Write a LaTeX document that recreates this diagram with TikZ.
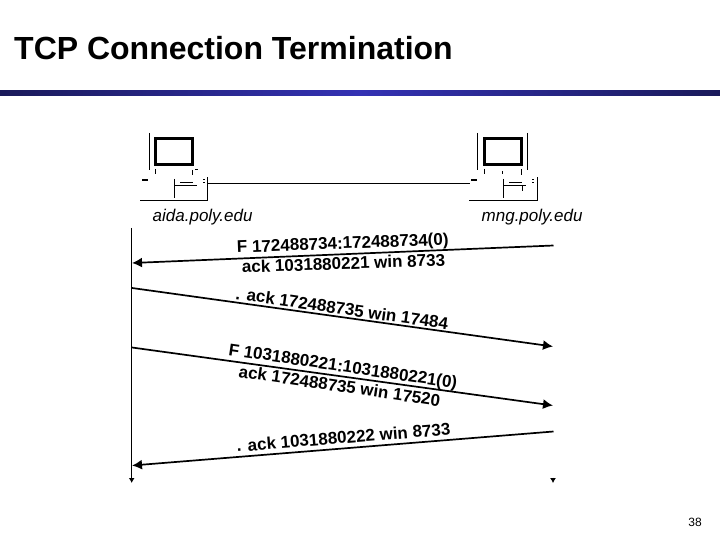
\documentclass[tikz,border=0pt]{standalone}
\usepackage{fontspec}
\setmainfont{Liberation Sans}
\usetikzlibrary{arrows.meta}
\definecolor{bardark}{RGB}{26,26,90}
\definecolor{barmid}{RGB}{52,50,180}
\tikzset{
  msg/.style={line width=1.7pt,-{Latex[length=10pt,width=10pt]}},
  msgtext/.style={inner sep=0pt,font=\fontsize{17}{17}\selectfont\bfseries,anchor=base west,black},
  hostlabel/.style={inner sep=0pt,font=\fontsize{17}{17}\selectfont\itshape,anchor=base west},
  thin line/.style={line width=0.9pt},
  life/.style={line width=1pt},
}
\begin{document}
\begin{tikzpicture}[x=1pt,y=-1pt]
\useasboundingbox (0,0) rectangle (720,540);
\fill[white] (0,0) rectangle (720,540);
\node[inner sep=0pt,anchor=base west,font=\fontsize{32}{32}\selectfont\bfseries] (title) at (14,60) {TCP Connection Termination};
\fill[left color=bardark,right color=barmid] (0,90.5) rectangle (360.5,96);
\fill[left color=barmid,right color=bardark] (360,90.5) rectangle (720,96);
% left host
\draw[line width=3pt] (155,138.5) rectangle (192,165);
\draw[thin line] (149,133) -- (149,170);
\draw[line width=2pt] (142,180) -- (148,180);
\draw[thin line] (155,169) -- (155,174);
\draw[thin line] (192,170) -- (192,175);
\draw[thin line] (195,169) -- (198,169);
\draw[thin line] (140,200) -- (207.5,200) -- (207.5,177);
\draw[thin line] (174,179) -- (174,198);
\draw[thin line] (174,185.5) -- (197,185.5);
\draw[thin line] (180,182) -- (193,182);
\draw[thin line] (203,179) -- (205,179) (203,182) -- (205,182);
% right host
\draw[line width=3pt] (484,138.5) rectangle (521,165);
\draw[thin line] (477,133) -- (477,170);
\draw[thin line] (527,133) -- (527,170);
\draw[line width=2pt] (471,180) -- (477,180);
\draw[thin line] (484,169) -- (484,174);
\draw[thin line] (502,171) -- (502,174);
\draw[thin line] (521,169) -- (521,175);
\draw[thin line] (469,200) -- (537,200) -- (537,177);
\draw[thin line] (503,179) -- (503,198);
\draw[thin line] (503,185.5) -- (526,185.5);
\draw[thin line] (509,182) -- (522,182);
\draw[thin line] (522,186) -- (522,191);
\draw[thin line] (532,179) -- (534,179) (532,182) -- (534,182);
% link
\coordinate (linkA) at (207.5,183);
\coordinate (linkB) at (470,183);
\draw[thin line] (linkA) -- (linkB);
\node[hostlabel] (aida) at (152.5,222) {aida.poly.edu};
\node[hostlabel] (mng) at (481.5,222) {mng.poly.edu};
% lifelines
\coordinate (lifeLtop) at (131.7,228);
\coordinate (lifeLbot) at (131.7,483);
\coordinate (lifeRa) at (553,477.5);
\coordinate (lifeRb) at (553,483);
\draw[life,-{Latex[length=5pt,width=6pt]}] (lifeLtop) -- (lifeLbot);
\draw[life,-{Latex[length=5pt,width=6pt]}] (lifeRa) -- (lifeRb);
% messages
\coordinate (m1s) at (553.5,245.5); \coordinate (m1e) at (132,263);
\coordinate (m2s) at (132,288);     \coordinate (m2e) at (553,346.5);
\coordinate (m3s) at (132,347.5);   \coordinate (m3e) at (553,405.5);
\coordinate (m4s) at (553.5,431.5); \coordinate (m4e) at (132,465.5);
\draw[msg] (m1s) -- (m1e);
\draw[msg] (m2s) -- (m2e);
\draw[msg] (m3s) -- (m3e);
\draw[msg] (m4s) -- (m4e);
\node[msgtext,rotate=2.2] (t1) at (237,253) {F 172488734:172488734(0)};
\node[msgtext,rotate=2] (t2) at (242,273) {ack 1031880221 win 8733};
\node[msgtext,rotate=-8.2] (t3) at (235,299) {. ack 172488735 win 17484};
\node[msgtext,rotate=-8.4] (t4) at (228,355) {F 1031880221:1031880221(0)};
\node[msgtext,rotate=-8.4] (t5) at (238,377) {ack 172488735 win 17520};
\node[msgtext,rotate=4.6] (t6) at (237,452) {. ack 1031880222 win 8733};
\node[inner sep=0pt,anchor=base east,font=\fontsize{12}{12}\selectfont] (page) at (702,526) {38};
\end{tikzpicture}
\end{document}
